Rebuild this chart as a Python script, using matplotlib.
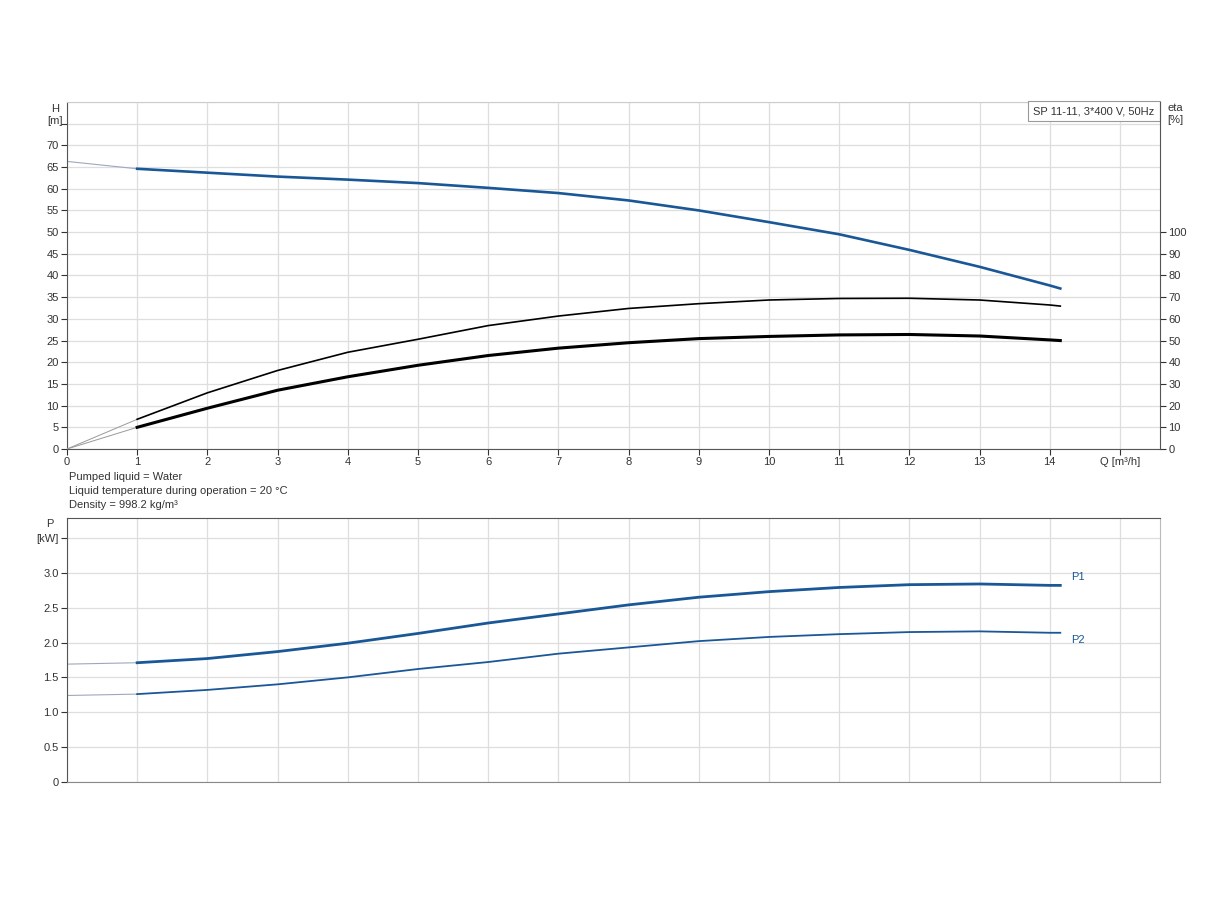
import matplotlib
matplotlib.use("Agg")
import matplotlib.pyplot as plt

plt.rcParams["font.family"] = ["Liberation Sans", "DejaVu Sans"]

# flow points of the drawn (thick) part of the curves, m3/h
q = [1, 2, 3, 4, 5, 6, 7, 8, 9, 10, 11, 12, 13, 14, 14.15]
# head, m
head = [64.6, 63.7, 62.8, 62.1, 61.3, 60.2, 59.0, 57.3, 55.0, 52.3, 49.5, 45.9, 42.0, 37.7, 37.0]
head_q0 = 66.3
# efficiencies, %
eta_upper = [13.7, 25.9, 36.2, 44.6, 50.6, 56.9, 61.3, 64.8, 67.0, 68.7, 69.4, 69.5, 68.7, 66.4, 65.9]
eta_lower = [10.0, 18.8, 27.1, 33.3, 38.6, 43.1, 46.5, 49.0, 50.9, 51.9, 52.6, 52.8, 52.1, 50.3, 50.0]
# power, kW
p1 = [1.71, 1.77, 1.87, 1.99, 2.13, 2.28, 2.41, 2.54, 2.65, 2.73, 2.79, 2.83, 2.84, 2.82, 2.82]
p2 = [1.26, 1.32, 1.40, 1.50, 1.62, 1.72, 1.84, 1.93, 2.02, 2.08, 2.12, 2.15, 2.16, 2.14, 2.14]
p1_q0 = 1.69
p2_q0 = 1.24

x_ticks = list(range(16))
x_labels = [str(i) for i in range(15)] + ["Q [m³/h]"]
h_ticks = list(range(0, 75, 5))
eta_ticks = list(range(0, 110, 10))
p_ticks = [0, 0.5, 1.0, 1.5, 2.0, 2.5, 3.0]
p_labels = ["0", "0.5", "1.0", "1.5", "2.0", "2.5", "3.0"]

BLUE = "#1a5796"
THIN = "#9aaabd"
GRID = "#dedede"
DARK = "#555555"
TXT = "#333333"
FS = 8

fig = plt.figure(figsize=(12.24, 9), dpi=100)
ax = fig.add_axes([0.0547, 0.5011, 0.893, 0.3856])
axp = fig.add_axes([0.0547, 0.1312, 0.893, 0.2932])

# ---- head / efficiency panel
ax.set_xlim(0, 15.57)
ax.set_ylim(0, 80)
ax.set_xticks(x_ticks)
ax.set_xticklabels(x_labels)
ax.set_yticks(h_ticks + [75])
ax.set_yticklabels([str(t) for t in h_ticks] + [""])
ax.set_yticks([80], minor=True)
ax.grid(True, color=GRID, lw=0.9)
ax.grid(True, which="minor", color=GRID, lw=0.9)
ax.tick_params(which="minor", length=0)
ax.set_axisbelow(True)
ax.tick_params(labelsize=FS, colors=TXT, length=4, width=0.8, pad=2)
for side in ("left", "bottom"):
    ax.spines[side].set_color(DARK)
ax.spines["top"].set_color("#cccccc")
ax.spines["right"].set_visible(False)

ax.plot([0, q[0]], [head_q0, head[0]], color=THIN, lw=0.8)
ax.plot(q, head, color=BLUE, lw=1.9)

axe = ax.twinx()
axe.set_ylim(0, 160)
axe.set_yticks(eta_ticks)
axe.tick_params(labelsize=FS, colors=TXT, length=4, width=0.8, pad=2)
axe.spines["right"].set_color(DARK)
axe.spines["top"].set_visible(False)
axe.spines["left"].set_visible(False)
axe.spines["bottom"].set_visible(False)
axe.plot([0, q[0]], [0, eta_upper[0]], color="#999999", lw=0.7)
axe.plot([0, q[0]], [0, eta_lower[0]], color="#999999", lw=0.7)
axe.plot(q, eta_upper, color="black", lw=1.2)
axe.plot(q, eta_lower, color="black", lw=2.2)

fig.text(55 / 1224, 1 - 115 / 900, "H\n[m]", ha="center", va="center", fontsize=FS, color=TXT, linespacing=1.2)
fig.text(1175 / 1224, 1 - 114 / 900, "eta\n[%]", ha="center", va="center", fontsize=FS, color=TXT, linespacing=1.2)

ax.text(0.995, 0.9726, "SP 11-11, 3*400 V, 50Hz", transform=ax.transAxes, ha="right", va="center",
        fontsize=FS, color=TXT,
        bbox=dict(boxstyle="square,pad=0.45", facecolor="white", edgecolor="#999999", lw=0.8))

# ---- notes between panels
notes = ["Pumped liquid = Water", "Liquid temperature during operation = 20 °C", "Density = 998.2 kg/m³"]
for i, line in enumerate(notes):
    fig.text(69 / 1224, 1 - (477 + 14 * i) / 900, line, ha="left", va="center", fontsize=FS, color=TXT)

# ---- power panel
axp.set_xlim(0, 15.57)
axp.set_ylim(0, 3.786)
axp.set_xticks(x_ticks)
axp.set_xticklabels([])
axp.set_yticks(p_ticks + [3.5])
axp.set_yticklabels(p_labels + ["[kW]"])
axp.tick_params(labelsize=FS, colors=TXT, length=4, width=0.8, pad=2)
axp.tick_params(axis="x", length=0)
axp.grid(True, color=GRID, lw=0.9)
axp.set_axisbelow(True)
axp.spines["left"].set_color(DARK)
axp.spines["top"].set_color(DARK)
axp.spines["bottom"].set_color("#888888")
axp.spines["right"].set_color("#bbbbbb")
fig.text(50 / 1224, 1 - 524 / 900, "P", ha="center", va="center", fontsize=FS, color=TXT)

axp.plot([0, q[0]], [p1_q0, p1[0]], color=THIN, lw=0.8)
axp.plot([0, q[0]], [p2_q0, p2[0]], color=THIN, lw=0.8)
axp.plot(q, p1, color=BLUE, lw=2.0)
axp.plot(q, p2, color=BLUE, lw=1.3)
axp.text(14.4, 2.94, "P1", ha="center", va="center", fontsize=FS, color=BLUE)
axp.text(14.4, 2.04, "P2", ha="center", va="center", fontsize=FS, color=BLUE)

fig.savefig("out.png", dpi=100)
